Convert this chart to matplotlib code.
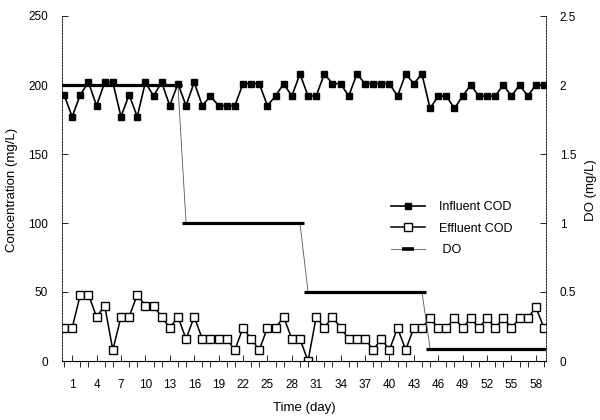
import matplotlib
matplotlib.use("Agg")
import matplotlib.pyplot as plt
from matplotlib.lines import Line2D
from matplotlib.ticker import MultipleLocator, FixedLocator

plt.rcParams['font.family'] = ['Liberation Sans', 'DejaVu Sans']

days = list(range(0, 60))
influent = [193, 177, 193, 202, 185, 202, 202, 177, 193, 177,
            202, 192, 202, 185, 201, 185, 202, 185, 192, 185,
            185, 185, 201, 201, 201, 185, 192, 201, 192, 208,
            192, 192, 208, 201, 201, 192, 208, 201, 201, 201,
            201, 192, 208, 201, 208, 183, 192, 192, 183, 192,
            200, 192, 192, 192, 200, 192, 200, 192, 200, 200]
effluent = [24, 24, 48, 48, 32, 40, 8, 32, 32, 48,
            40, 40, 32, 24, 32, 16, 32, 16, 16, 16,
            16, 8, 24, 16, 8, 24, 24, 32, 16, 16,
            0, 32, 24, 32, 24, 16, 16, 16, 8, 16,
            8, 24, 8, 24, 24, 31, 24, 24, 31, 24,
            31, 24, 31, 24, 31, 24, 31, 31, 39, 24]
do = [2.0] * 15 + [1.0] * 15 + [0.5] * 15 + [0.09] * 15
xtick_days = list(range(1, 59, 3))
left_ticks = [0, 50, 100, 150, 200, 250]
right_ticks = [0, 0.5, 1, 1.5, 2, 2.5]
right_labels = ["0", "0.5", "1", "1.5", "2", "2.5"]

fig = plt.figure(figsize=(6, 4.2), dpi=100)
ax = fig.add_axes([62/600, 1-361/420, 484/600, 345/420])
ax2 = ax.twinx()

l1, = ax.plot(days, influent, color='black', lw=1.2, marker='s', ms=5,
              mfc='black', mec='black', label='Influent COD')
l2, = ax.plot(days, effluent, color='black', lw=1.1, marker='s', ms=5.5,
              mfc='white', mec='black', mew=1.0, label='Effluent COD')
# thin connecting line of DO
ax2.plot(days, do, color='#555555', lw=0.6)
# thick band over each constant DO run (the overlapping dash markers)
runs = []
start = 0
for i in range(1, len(do) + 1):
    if i == len(do) or do[i] != do[start]:
        runs.append((days[start], days[i - 1], do[start]))
        start = i
for s, e, v in runs:
    ax2.hlines(v, s - 0.45, e + 0.45, colors='black', lw=2.3, capstyle='butt')

l3 = Line2D([], [], color='#555555', lw=0.6, marker='_', ms=8,
            mec='black', mew=2.6, label=' DO')

ax.set_xlim(-0.25, 59.25)
ax.set_ylim(0, 250)
ax2.set_ylim(0, 2.5)

ax.xaxis.set_major_locator(FixedLocator(xtick_days))
ax.set_xticklabels([str(d) for d in xtick_days])
ax.xaxis.set_minor_locator(MultipleLocator(1))
ax.set_yticks(left_ticks)
ax2.set_yticks(right_ticks)
ax2.set_yticklabels(right_labels)

for a in (ax, ax2):
    a.spines['top'].set_visible(False)
    a.tick_params(direction='in', labelsize=8.5, colors='black')
ax.tick_params(axis='x', which='both', length=4, width=0.6, pad=13)
ax.tick_params(axis='y', length=4, width=0.6, pad=10)
ax2.tick_params(axis='y', length=4, width=0.6, pad=10)
ax.spines['left'].set_linestyle((0, (2, 1.5)))
ax.spines['left'].set_linewidth(0.6)
ax2.spines['left'].set_visible(False)
ax2.spines['right'].set_linestyle((0, (2, 1.5)))
ax2.spines['right'].set_linewidth(0.6)
ax2.spines['bottom'].set_visible(False)
ax.spines['right'].set_visible(False)
ax.spines['bottom'].set_linewidth(0.8)

fig.text(12/600, 1-190/420, 'Concentration (mg/L)', rotation=90,
         ha='center', va='center', fontsize=9.5)
fig.text(591/600, 1-190/420, 'DO (mg/L)', rotation=90,
         ha='center', va='center', fontsize=9.5)
fig.text(304/600, 1-408/420, 'Time (day)', ha='center', va='center', fontsize=9.5)

leg = ax2.legend(handles=[l1, l2, l3], loc='upper left',
                 bbox_to_anchor=(385/600, 1-195/420), bbox_transform=fig.transFigure,
                 frameon=False, fontsize=9, borderpad=0, handlelength=2.7,
                 handletextpad=1.1, labelspacing=0.75)

fig.savefig('out.png', dpi=100)
